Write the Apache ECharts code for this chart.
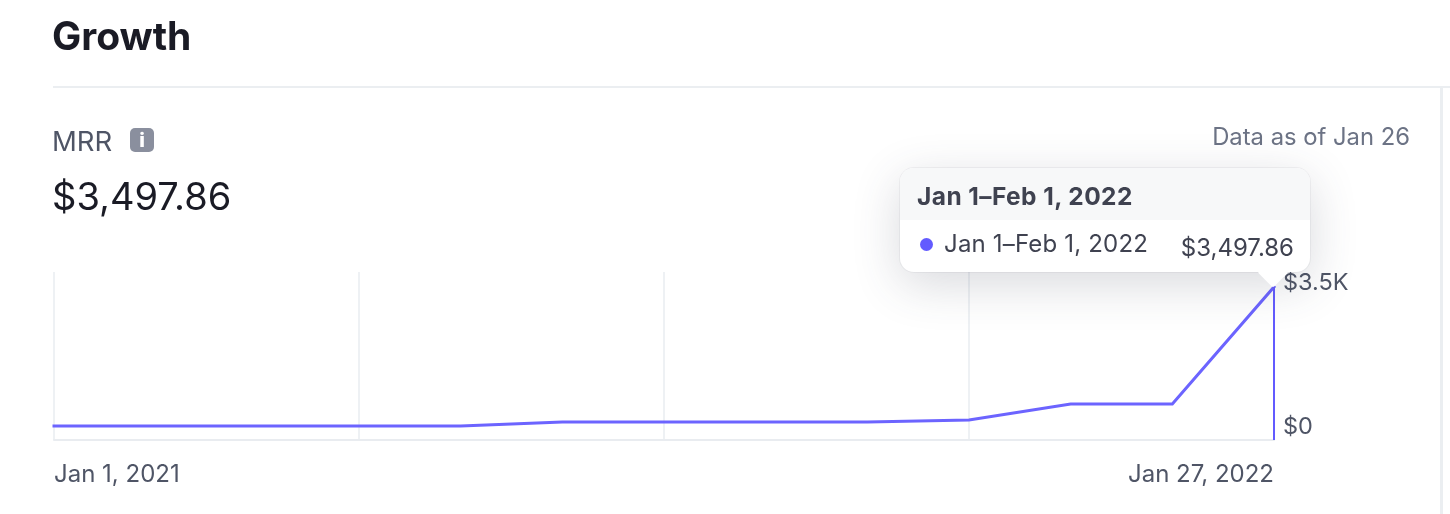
<!DOCTYPE html>
<html><head><meta charset="utf-8">
<style>html,body{margin:0;padding:0;background:#fff}#c{width:1450px;height:514px}</style>
<script src="https://cdn.jsdelivr.net/npm/echarts@6/dist/echarts.min.js"></script>
</head><body><div id="c"></div>
<script>
const categories = ["Jan 1, 2021","Feb 1, 2021","Mar 1, 2021","Apr 1, 2021","May 1, 2021","Jun 1, 2021","Jul 1, 2021","Aug 1, 2021","Sep 1, 2021","Oct 1, 2021","Nov 1, 2021","Dec 1, 2021","Jan 27, 2022"];
const mrrValues = [320,320,320,320,320,410,410,410,410,457,823,823,3497.86];
const yTicks = [0,3497.86];
const tooltipRange = "Jan 1–Feb 1, 2022";
const tooltipValue = "$3,497.86";
const FONT = 'Inter';
const chart = echarts.init(document.getElementById('c'),null,{renderer:'canvas'});
const txt=(x,y,text,size,color,weight,align)=>({type:'text',x,y,silent:true,style:{text,font:`${weight||400} ${size}px ${FONT}`,fill:color,align:align||'left',verticalAlign:'middle'}});
chart.setOption({
  animation:false,
  textStyle:{fontFamily:FONT},
  grid:{left:54,right:176,top:272,bottom:74,containLabel:false},
  xAxis:{type:'category',data:categories,boundaryGap:false,
    axisLine:{show:true,lineStyle:{color:'#e9ecf0',width:2}},axisTick:{show:false},
    splitLine:{show:true,interval:(i)=>i%3===0&&i<12,lineStyle:{color:'#e9ecf0',width:1.5}},
    axisLabel:{interval:(i)=>i===0||i===12,margin:23,fontSize:24,color:'#4f5566',fontFamily:FONT,alignMinLabel:'left',alignMaxLabel:'right',lineHeight:24}},
  yAxis:{type:'value',position:'right',min:0,max:3840,
    axisLine:{show:false},axisTick:{show:false},splitLine:{show:false},
    axisLabel:{customValues:yTicks,inside:false,margin:9,fontSize:23.5,color:'#4f5566',fontFamily:FONT,
      formatter:(v)=>v===0?'{bot|$0}':'{top|$3.5K}',verticalAlignMinLabel:'bottom',lineHeight:24,
      rich:{top:{fontSize:23.5,color:'#4f5566',fontFamily:FONT,lineHeight:24,padding:[0,0,8,0]},
            bot:{fontSize:23.5,color:'#4f5566',fontFamily:FONT,lineHeight:24,padding:[0,0,2,0]}}}},
  tooltip:{show:true,trigger:'axis',axisPointer:{type:'none'},alwaysShowContent:true,padding:0,borderWidth:0,backgroundColor:'transparent',
    extraCssText:'box-shadow:none;',transitionDuration:0,
    position:()=>[900,168],
    formatter:()=>`<div style="position:relative;width:410px;height:104px;font-family:Inter;border-radius:14px;background:#fff;box-shadow:0 0 0 1px rgba(60,66,87,.06),0 12px 48px rgba(60,66,87,.2);">
      <div style="position:absolute;left:362px;top:93px;width:22px;height:22px;background:#fff;transform:rotate(45deg);border-radius:2px;"></div>
      <div style="position:absolute;left:0;top:0;width:410px;height:52px;background:#f7f8f9;border-radius:14px 14px 0 0;"></div>
      <div style="position:absolute;left:17px;top:0;line-height:56px;font-size:24.5px;font-weight:700;letter-spacing:.43px;color:#3f4250;white-space:nowrap;">${tooltipRange}</div>
      <div style="position:absolute;left:20px;top:70px;width:13px;height:13px;border-radius:50%;background:#635bff;"></div>
      <div style="position:absolute;left:44px;top:52px;line-height:48px;font-size:24px;letter-spacing:.18px;color:#3f4250;white-space:nowrap;">${tooltipRange}</div>
      <div style="position:absolute;right:16px;top:56px;line-height:48px;font-size:24px;color:#3f4250;white-space:nowrap;">${tooltipValue}</div>
    </div>`},
  series:[{type:'line',data:mrrValues,symbol:'none',smooth:false,
    lineStyle:{color:'#635bff',width:3,join:'miter',cap:'square'},itemStyle:{color:'#635bff'},
    markLine:{silent:true,symbol:'none',label:{show:false},animation:false,
      lineStyle:{color:'#635bff',width:2,type:'solid'},
      data:[[{coord:[12,3497.86]},{coord:[12,0]}]]}}],
  graphic:{elements:[
    txt(52,38,'Growth',39,'#1a1b25',700),
    {type:'rect',silent:true,shape:{x:53,y:86,width:1397,height:2},style:{fill:'#ebeef1'}},
    {type:'rect',silent:true,shape:{x:1440,y:88,width:3,height:426},style:{fill:'#ebeef1'}},
    txt(52,143,'MRR',27.5,'#4f5566',400),
    {type:'rect',silent:true,shape:{x:130,y:128,width:24,height:24,r:5},style:{fill:'#8a8f9e'}},
    txt(142,141,'i',20,'#ffffff',800,'center'),
    txt(52,199,'$3,497.86',38,'#1a1b25',400),
    txt(1410,138,'Data as of Jan 26',23.8,'#6c7385',400,'right')
  ]}
});
const tip=()=>chart.dispatchAction({type:'showTip',seriesIndex:0,dataIndex:12});
tip();setTimeout(tip,50);
</script></body></html>
